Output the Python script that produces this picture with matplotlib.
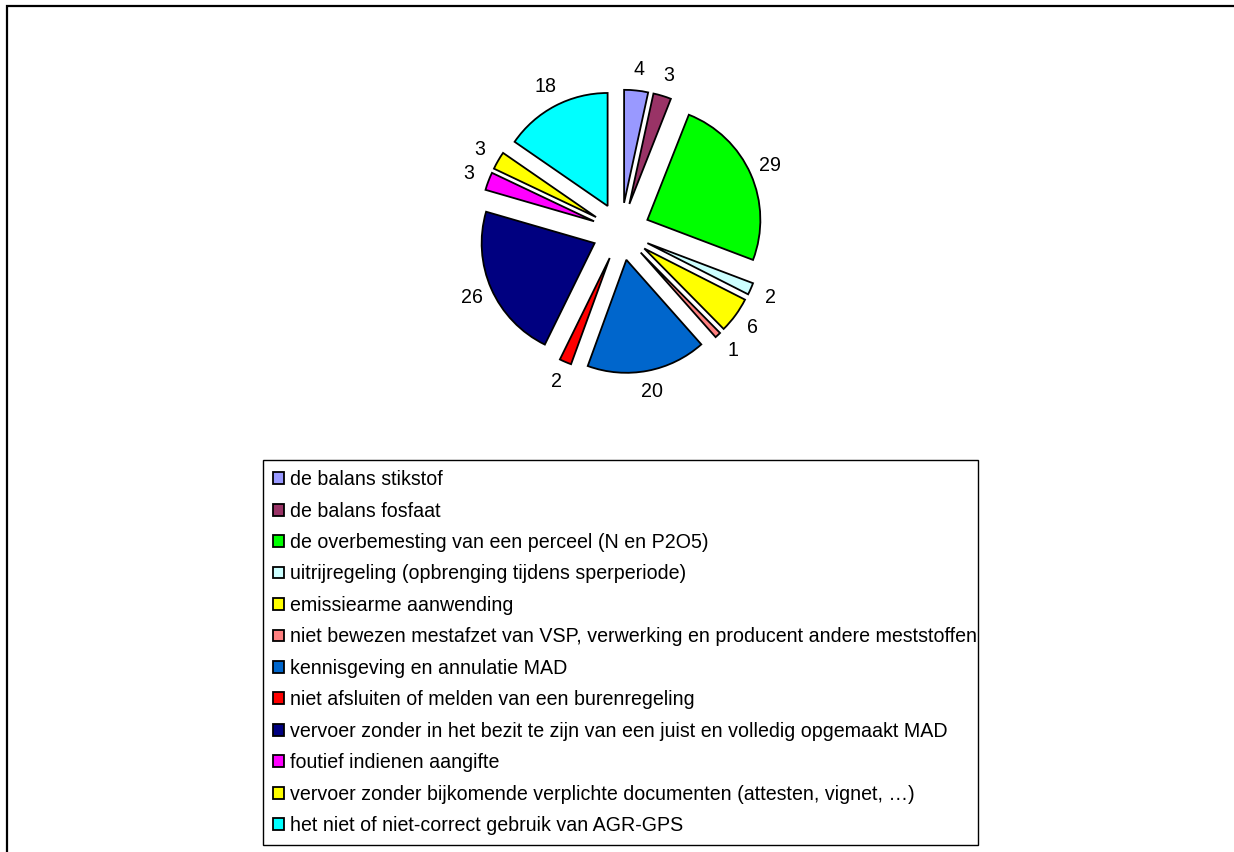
import matplotlib
matplotlib.use("Agg")
import matplotlib.pyplot as plt
from matplotlib.patches import Rectangle

plt.rcParams["font.family"] = ["Liberation Sans", "DejaVu Sans"]

# inbreuken per categorie
categories = [
    "de balans stikstof",
    "de balans fosfaat",
    "de overbemesting van een perceel (N en P2O5)",
    "uitrijregeling (opbrenging tijdens sperperiode)",
    "emissiearme aanwending",
    "niet bewezen mestafzet van VSP, verwerking en producent andere meststoffen",
    "kennisgeving en annulatie MAD",
    "niet afsluiten of melden van een burenregeling",
    "vervoer zonder in het bezit te zijn van een juist en volledig opgemaakt MAD",
    "foutief indienen aangifte",
    "vervoer zonder bijkomende verplichte documenten (attesten, vignet, \u2026)",
    "het niet of niet-correct gebruik van AGR-GPS",
]
values = [4, 3, 29, 2, 6, 1, 20, 2, 26, 3, 3, 18]
colors = ["#9999FF", "#993366", "#00FF00", "#CCFFFF", "#FFFF00", "#FF8080",
          "#0066CC", "#FF0000", "#000080", "#FF00FF", "#FFFF00", "#00FFFF"]

W, H = 1234, 852
fig = plt.figure(figsize=(W / 100, H / 100), dpi=100)

# kader rond de grafiek (loopt rechts en onder door)
fig.patches.append(Rectangle((7 / W, -0.1), 1.2, 1 - 6 / H + 0.1,
                             transform=fig.transFigure, fill=False,
                             edgecolor="black", linewidth=1.6))

# taart: straal 113 px, middelpunt op (621, 231) px
r_px = 113
half = 250
cx, cy = 621, 231.5
ax = fig.add_axes([(cx - half) / W, (H - cy - half) / H, 2 * half / W, 2 * half / H])

wedges, texts = ax.pie(
    values,
    labels=[str(v) for v in values],
    colors=colors,
    explode=[0.255] * len(values),
    startangle=90,
    counterclock=False,
    labeldistance=1.19,
    wedgeprops=dict(edgecolor="black", linewidth=1.3),
    textprops=dict(fontsize=14.1),
)
for t in texts:
    t.set_ha("center")
    t.set_va("center")

lim = half / r_px
ax.set_xlim(-lim, lim)
ax.set_ylim(-lim, lim)
ax.set_aspect("equal")
ax.axis("off")

# legende met vaste breedte (263..978 px)
leg = fig.legend(
    wedges, categories,
    loc="upper left",
    bbox_to_anchor=(263 / W, 1 - 460 / H, (978 - 263) / W, 0),
    bbox_transform=fig.transFigure,
    mode="expand",
    borderaxespad=0,
    fontsize=14.1,
    handlelength=0.55,
    handleheight=0.55,
    handletextpad=0.3,
    labelspacing=0.635,
    borderpad=0.52,
    fancybox=False,
    framealpha=1,
    edgecolor="black",
)
leg.get_frame().set_linewidth(1.0)

fig.savefig("out.png", dpi=100)
